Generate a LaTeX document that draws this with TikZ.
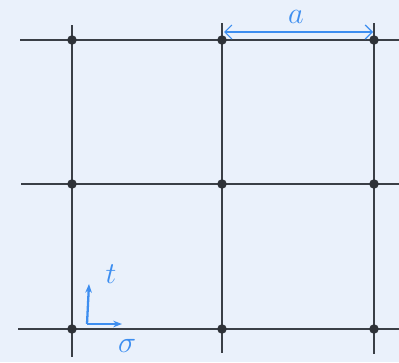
\documentclass[tikz,border=0pt]{standalone}
\usetikzlibrary{arrows.meta}

\definecolor{paper}{HTML}{EAF1FB}
\definecolor{ink}{HTML}{3A3F46}
\definecolor{pen}{HTML}{3D8EF0}

\begin{document}
\begin{tikzpicture}[
	x=0.02cm, y=-0.02cm,
	font=\LARGE,
	grid/.style={line width=0.85pt, draw=ink},
	site/.style={
		circle, fill=ink!80!black,
		inner sep=0pt, minimum size=0.19cm
	},
	dimarr/.style={{Straight Barb[length=4pt]}-{Straight Barb[length=4pt]}, line width=0.7pt, pen},
	axarr/.style={-{Stealth[length=5pt]}, line width=1.3pt, pen},
	lbl/.style={text=pen, inner sep=0pt}
]

% Background and frame of the sheet
\useasboundingbox[fill=paper] (0,0) rectangle (399,362);

% Ends of the lattice lines
\coordinate (h1w) at (20,40);  \coordinate (h1e) at (399,40);
\coordinate (h2w) at (21,184); \coordinate (h2e) at (399,184);
\coordinate (h3w) at (18,329); \coordinate (h3e) at (399,329);
\coordinate (v1n) at (72,25);  \coordinate (v1s) at (72,357);
\coordinate (v2n) at (222,23); \coordinate (v2s) at (222,353);
\coordinate (v3n) at (374,23); \coordinate (v3s) at (374,354);

\foreach \i in {1,2,3} {
	\draw[grid] (h\i w) -- (h\i e);
	\draw[grid] (v\i n) -- (v\i s);
}

% Lattice sites
\foreach \x/\c in {72/1,222/2,374/3}
	\foreach \y/\r in {40/1,184/2,329/3}
		\node[site] (s\r\c) at (\x,\y) {};

% Lattice spacing
\coordinate (a0) at (224,32);
\coordinate (a1) at (373,32);
\draw[dimarr] (a0) -- (a1);
\node[lbl] (la) at (296,17) {$a$};

% Axes
\coordinate (o)  at (87,324);
\coordinate (ot) at (89,284);
\coordinate (os) at (122,324);
\draw[axarr] (o) -- (ot);
\draw[axarr] (o) -- (os);
\node[lbl] (lt) at (111,274) {$t$};
\node[lbl] (ls) at (127,346) {$\sigma$};

\end{tikzpicture}
\end{document}
